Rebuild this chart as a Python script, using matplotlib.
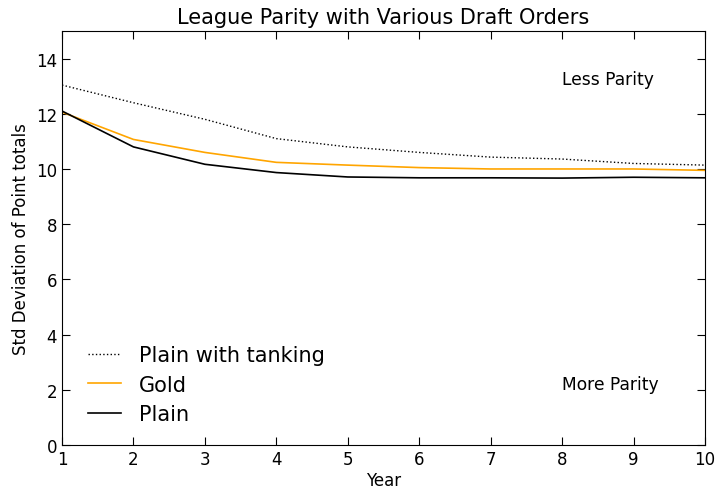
import numpy as np
import matplotlib
matplotlib.use("Agg")
import matplotlib.pyplot as plt

years = [1, 2, 3, 4, 5, 6, 7, 8, 9, 10]
tanking = [13.04, 12.4, 11.8, 11.1, 10.8, 10.6, 10.43, 10.36, 10.2, 10.14]
gold = [12.06, 11.07, 10.6, 10.24, 10.14, 10.05, 10.0, 10.0, 10.0, 9.95]
plain = [12.1, 10.8, 10.17, 9.87, 9.71, 9.68, 9.68, 9.67, 9.7, 9.68]

fig = plt.figure(figsize=(7.16, 4.89), dpi=100)
ax = fig.add_axes([0.0866, 0.088, 0.898, 0.8466])

ax.plot(years, tanking, linestyle=':', color='black', linewidth=1, label='Plain with tanking')
ax.plot(years, gold, color='orange', linewidth=1.2, label='Gold')
ax.plot(years, plain, color='black', linewidth=1.2, label='Plain')

ax.set_xlim(1, 10)
ax.set_ylim(0, 15)
ax.set_yticks(np.arange(0, 15, 2))
ax.set_xticks(years)
ax.tick_params(direction='in', top=True, right=True, labelsize=12, length=6)

ax.text(8, 13.25, 'Less Parity', fontsize=12.3, va='center')
ax.text(8, 2.2, 'More Parity', fontsize=12.3, va='center')

ax.set_title('League Parity with Various Draft Orders', fontsize=15)
ax.set_xlabel('Year', fontsize=12, labelpad=2)
ax.set_ylabel('Std Deviation of Point totals', fontsize=12)
ax.legend(loc='lower left', bbox_to_anchor=(0.008, 0.0), frameon=False,
          fontsize=15, handlelength=1.6, handletextpad=0.85,
          labelspacing=0.45, borderaxespad=0.6, borderpad=0.4)

fig.savefig('out.png', dpi=100)
